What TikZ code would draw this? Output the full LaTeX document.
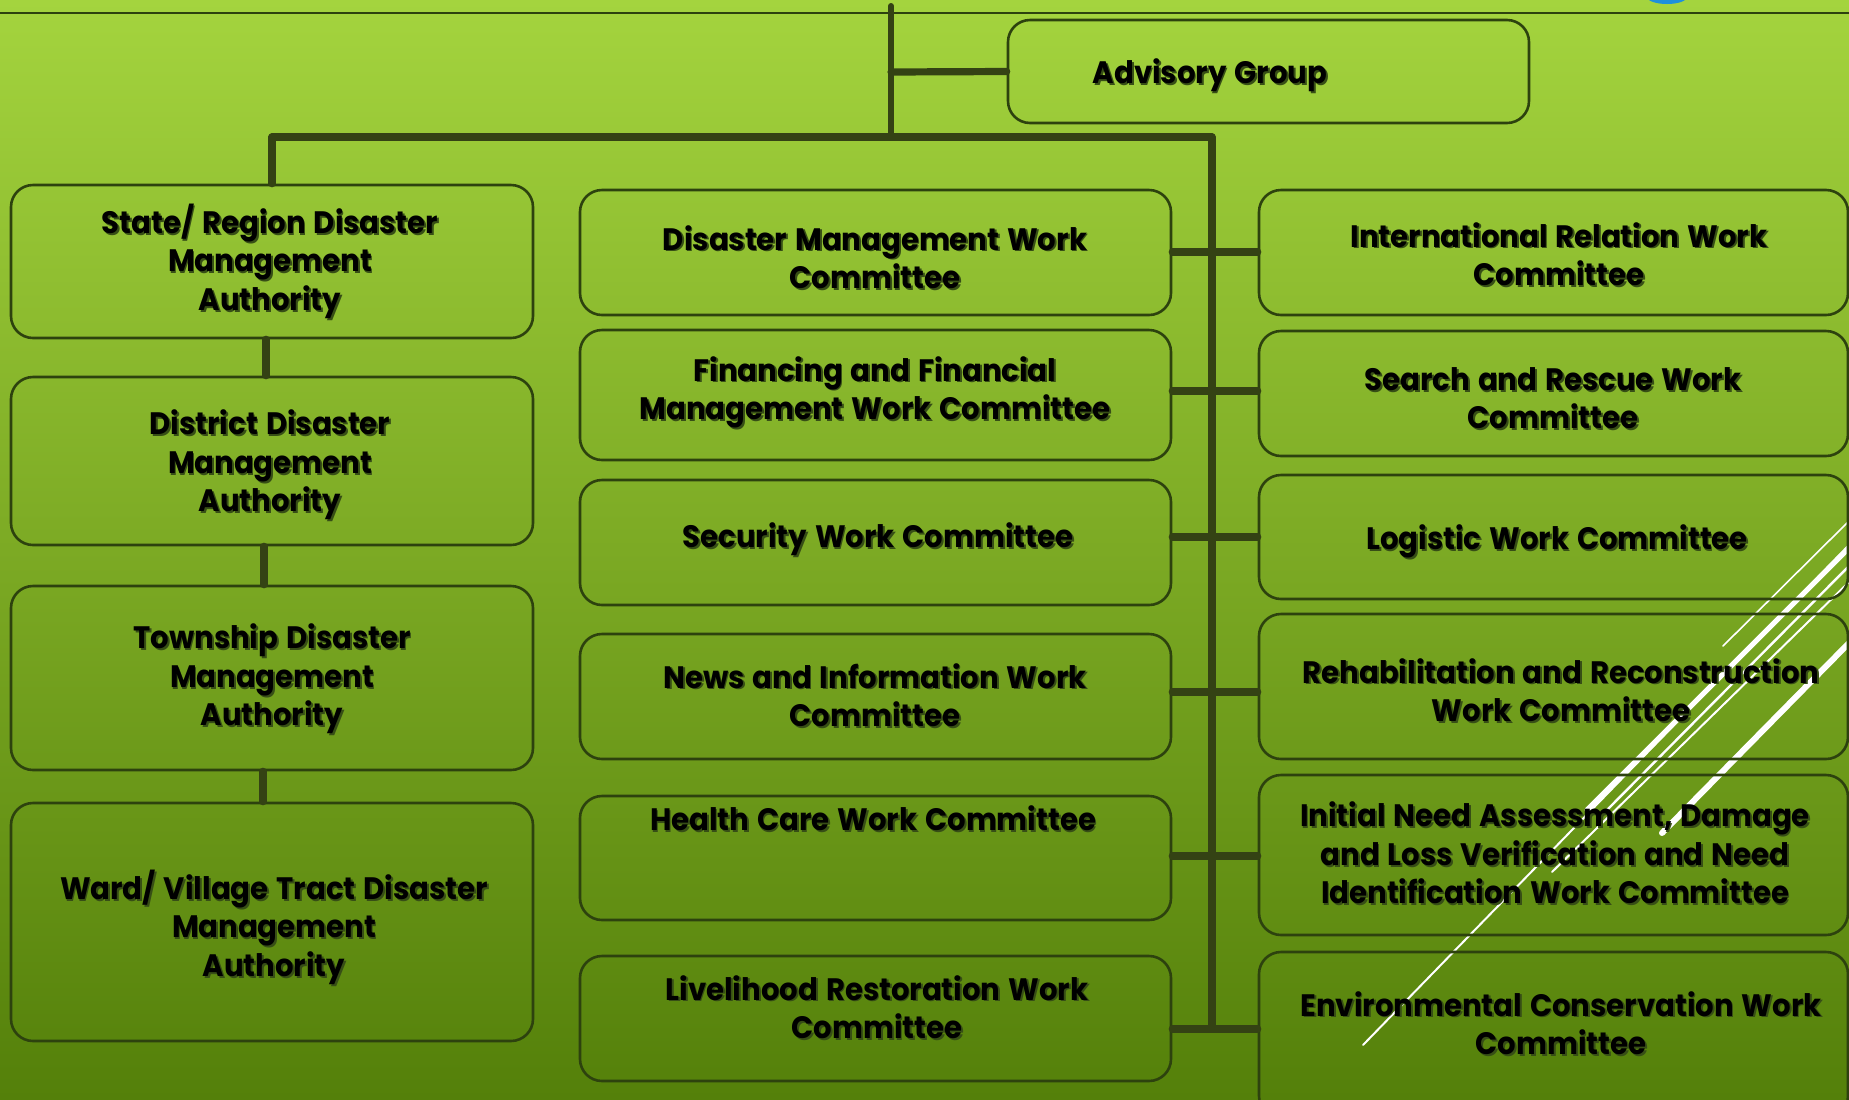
\documentclass[tikz,border=0pt]{standalone}
\usepackage{fontspec}
\setmainfont{Poppins}[FakeStretch=0.94,WordSpace=1.3]
\usetikzlibrary{fit}
\definecolor{bgtop}{RGB}{164,212,62}
\definecolor{bgbot}{RGB}{84,128,10}
\definecolor{edgec}{RGB}{45,66,14}
\definecolor{connc}{RGB}{52,66,20}
\definecolor{shadc}{RGB}{55,78,22}
\definecolor{blueblob}{RGB}{30,144,220}
\newcommand\shl[1]{\makebox[0pt][l]{\kern0.9pt\raisebox{-0.9pt}{\textcolor{shadc}{#1}}}#1}
\begin{document}
\begin{tikzpicture}[x=0.5pt,y=-0.5pt,
  box/.style={draw=edgec, line width=1.3pt, rounded corners=11pt, inner sep=0pt},
  txt/.style={font=\bfseries\fontsize{15.5}{19.25}\selectfont, align=center, inner sep=0pt, text=black},
  link/.style={draw=connc, line width=3.6pt, line cap=round},
  wl/.style={draw=white, line cap=round}]
\useasboundingbox (0,0) rectangle (1849,1099);
\clip (0,0) rectangle (1849,1099);
% background
\shade[top color=bgtop, bottom color=bgbot] (0,0) rectangle (1849,1099);
\fill[blueblob] (1667,-3) ellipse [x radius=10pt, y radius=3.5pt];
\draw[edgec, line width=1.2pt] (0,13) -- (1849,13);
% decorative white lines
\draw[wl, line width=0.8pt] (1723,646) -- (1849,521);
\draw[wl, line width=2.5pt] (1587,810) -- (1849,548);
\draw[wl, line width=1.2pt] (1605,812) -- (1849,566);
\draw[wl, line width=1pt] (1552,872) -- (1849,582);
\draw[wl, line width=1pt] (1363,1045) -- (1849,545);
\draw[wl, line width=3pt] (1662,833) -- (1849,643);
% boxes
\node[box, fit={(1008,20) (1529,123)}] (adv) {};
\node[box, fit={(11,185) (533,338)}] (s1) {};
\node[box, fit={(11,377) (533,545)}] (s2) {};
\node[box, fit={(11,586) (533,770)}] (s3) {};
\node[box, fit={(11,803) (533,1041)}] (s4) {};
\node[box, fit={(580,190) (1171,315)}] (m1) {};
\node[box, fit={(580,330) (1171,460)}] (m2) {};
\node[box, fit={(580,480) (1171,605)}] (m3) {};
\node[box, fit={(580,634) (1171,759)}] (m4) {};
\node[box, fit={(580,796) (1171,920)}] (m5) {};
\node[box, fit={(580,956) (1171,1081)}] (m6) {};
\node[box, fit={(1259,190) (1848,315)}] (r1) {};
\node[box, fit={(1259,331) (1848,456)}] (r2) {};
\node[box, fit={(1259,475) (1848,599)}] (r3) {};
\node[box, fit={(1259,614) (1848,759)}] (r4) {};
\node[box, fit={(1259,775) (1848,935)}] (r5) {};
\node[box, fit={(1259,952) (1848,1118)}] (r6) {};
% texts
\node[txt] (advt) at (1210,76) {\shl{Advisory Group}};
\node[txt] (s1t) at (270,262) {\shl{State/ Region Disaster}\\\shl{Management}\\\shl{Authority}};
\node[txt] (s2t) at (270,466) {\shl{District Disaster}\\\shl{Management}\\\shl{Authority}};
\node[txt] (s3t) at (272,680) {\shl{Township Disaster}\\\shl{Management}\\\shl{Authority}};
\node[txt] (s4t) at (274,928) {\shl{Ward/ Village Tract Disaster}\\\shl{Management}\\\shl{Authority}};
\node[txt] (m1t) at (875,258) {\shl{Disaster Management Work}\\\shl{Committee}};
\node[txt] (m2t) at (875,393) {\shl{Financing and Financial}\\\shl{Management Work Committee}};
\node[txt] (m3t) at (878,540) {\shl{Security Work Committee}};
\node[txt] (m4t) at (875,696) {\shl{News and Information Work}\\\shl{Committee}};
\node[txt] (m5t) at (873,819) {\shl{Health Care Work Committee}};
\node[txt] (m6t) at (877,1008) {\shl{Livelihood Restoration Work}\\\shl{Committee}};
\node[txt] (r1t) at (1559,255) {\shl{International Relation Work}\\\shl{Committee}};
\node[txt] (r2t) at (1553,399) {\shl{Search and Rescue Work}\\\shl{Committee}};
\node[txt] (r3t) at (1557,542) {\shl{Logistic Work Committee}};
\node[txt] (r4t) at (1561,691) {\shl{Rehabilitation and Reconstruction}\\\shl{Work Committee}};
\node[txt] (r5t) at (1555,854) {\shl{Initial Need Assessment, Damage}\\\shl{and Loss Verification and Need}\\\shl{Identification Work Committee}};
\node[txt] (r6t) at (1561,1024) {\shl{Environmental Conservation Work}\\\shl{Committee}};
% junction coordinates
\coordinate (top) at (891,6);
\coordinate (jA) at (891,72);
\coordinate (jB) at (891,137);
\coordinate (barL) at (272,137);
\coordinate (barR) at (1212,137);
\coordinate (vEnd) at (1212,1029);
\coordinate (y1) at (0,252);
\coordinate (y2) at (0,391);
\coordinate (y3) at (0,537);
\coordinate (y4) at (0,692);
\coordinate (y5) at (0,856);
\coordinate (y6) at (0,1029);
% connectors
\draw[link, line width=3pt] (top) -- (jB);
\draw[link] (jA) -- (adv.west);
\draw[link] (barL) -- (barR);
\draw[link] (barL) -- (s1.north);
\draw[link] (barR) -- (vEnd);
\draw[link] ([xshift=-3pt]s1.south) -- ([xshift=-3pt]s2.north);
\draw[link] ([xshift=-4pt]s2.south) -- ([xshift=-4pt]s3.north);
\draw[link] ([xshift=-4.5pt]s3.south) -- ([xshift=-4.5pt]s4.north);
\draw[link] (m1.east |- y1) -- (r1.west |- y1);
\draw[link] (m2.east |- y2) -- (r2.west |- y2);
\draw[link] (m3.east |- y3) -- (r3.west |- y3);
\draw[link] (m4.east |- y4) -- (r4.west |- y4);
\draw[link] (m5.east |- y5) -- (r5.west |- y5);
\draw[link] (m6.east |- y6) -- (r6.west |- y6);
\end{tikzpicture}
\end{document}
